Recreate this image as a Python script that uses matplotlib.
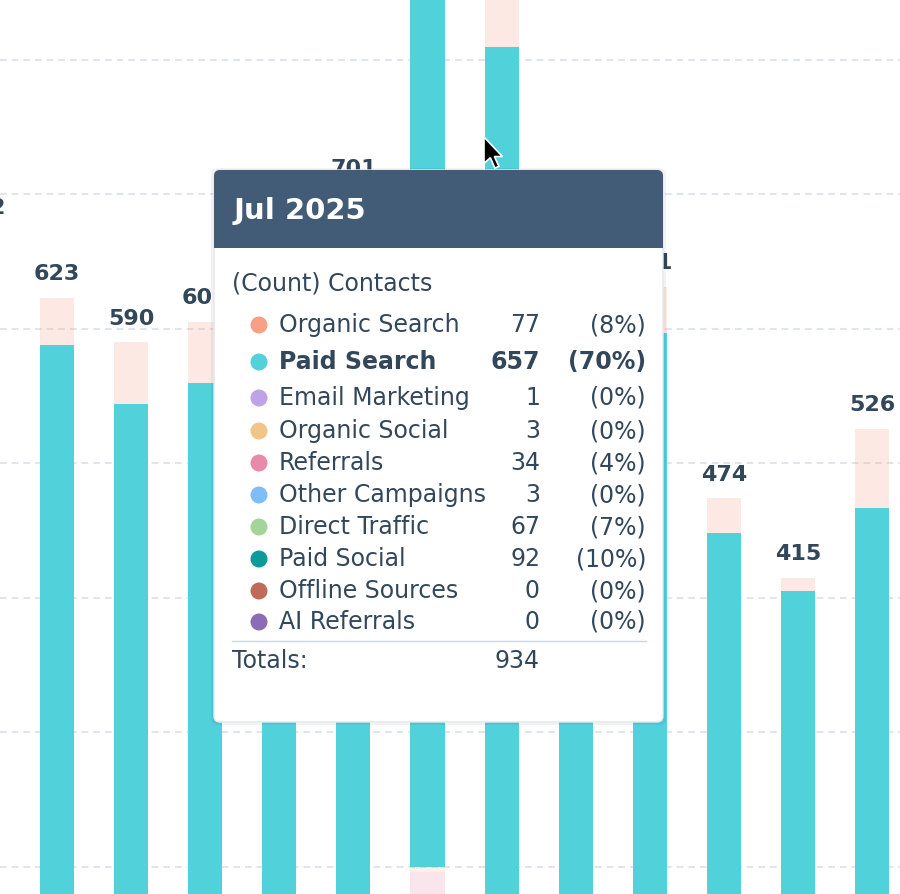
import numpy as np
import matplotlib.pyplot as plt
from matplotlib.patches import FancyBboxPatch, Rectangle, Circle, Polygon

plt.rcParams['font.family'] = ['DejaVu Sans']

# months shown (Jan 2025 .. Jan 2026), crop shows only part of the chart
months = ["Jan 2025", "Feb 2025", "Mar 2025", "Apr 2025", "May 2025", "Jun 2025",
          "Jul 2025", "Aug 2025", "Sep 2025", "Oct 2025", "Nov 2025", "Dec 2025", "Jan 2026"]

channels = ["Organic Search", "Paid Search", "Email Marketing", "Organic Social", "Referrals",
            "Other Campaigns", "Direct Traffic", "Paid Social", "Offline Sources", "AI Referrals"]
colors = ["#f89f86", "#51d1d9", "#bfa3e7", "#f1c488", "#e98aab",
          "#80bdf7", "#a5d49a", "#0d9a9b", "#c06b5a", "#8b6cb6"]

# bar segments (only Organic Search / Paid Search are visible for most months)
organic_search = [56, 35, 46, 45, 50, 52, 77, 62, 45, 34, 26, 10, 59]
paid_search = [616, 588, 544, 560, 598, 649, 657, 810, 642, 597, 448, 405, 467]
email_marketing = [0, 0, 0, 0, 0, 0, 1, 0, 0, 0, 0, 0, 0]
organic_social = [0, 0, 0, 0, 0, 0, 3, 0, 0, 0, 0, 0, 0]
referrals = [0, 0, 0, 0, 0, 0, 34, 0, 0, 0, 0, 0, 0]
other_campaigns = [0, 0, 0, 0, 0, 0, 3, 0, 0, 0, 0, 0, 0]
direct_traffic = [0, 0, 0, 0, 0, 0, 67, 0, 0, 0, 0, 0, 0]
paid_social = [0, 0, 0, 0, 0, 0, 92, 0, 0, 0, 0, 0, 0]
offline_sources = [0] * 13
ai_referrals = [0] * 13

series = [organic_search, paid_search, email_marketing, organic_social, referrals,
          other_campaigns, direct_traffic, paid_social, offline_sources, ai_referrals]
counts = np.array(series)
totals = counts.sum(axis=0)

hover = 6          # Jul 2025
active = 1         # Paid Search highlighted
text_col = "#33475b"
ymin, ymax = 179.9, 844.6

fig = plt.figure(figsize=(9, 8.94), dpi=100)
ax = fig.add_axes([0, 0, 1, 1])
x = np.arange(len(months))

# stack: last channel at the bottom, first on top
bottom = np.zeros(len(months))
for k in range(len(channels) - 1, -1, -1):
    a = 1.0 if k == active else 0.22
    ax.bar(x, counts[k], 0.46, bottom=bottom, color=colors[k], alpha=a, zorder=2, linewidth=0)
    bottom += counts[k]

# total labels (the ones above the crop are not visible anyway)
for i in x:
    if totals[i] > ymax:
        continue
    ax.annotate(str(totals[i]), (i, totals[i]), xytext=(0, 10), textcoords="offset points",
                ha="center", va="bottom", fontsize=16, fontweight="bold", color=text_col,
                annotation_clip=False, zorder=3)

ax.set_yticks(np.arange(200, 900, 100))
ax.yaxis.grid(True, color="#dadfea", linestyle=(0, (4, 3)), linewidth=1.2, zorder=0)
ax.set_axisbelow(True)
ax.set_xlim(0.231, 12.376)
ax.set_ylim(ymin, ymax)
ax.tick_params(left=False, bottom=False, labelleft=False, labelbottom=False)
for s in ax.spines.values():
    s.set_visible(False)

# tooltip overlay in pixel coordinates
ov = fig.add_axes([0, 0, 1, 1], zorder=5)
ov.set_xlim(0, 900)
ov.set_ylim(894, 0)
ov.axis("off")
ov.patch.set_alpha(0)

ov.add_patch(FancyBboxPatch((211, 168), 455, 557, boxstyle="round,pad=0,rounding_size=7",
                            fc="#000000", ec="none", alpha=0.05))
ov.add_patch(FancyBboxPatch((214, 170), 449, 552, boxstyle="round,pad=0,rounding_size=6",
                            fc="white", ec="#e3e8ef", lw=1))
ov.add_patch(FancyBboxPatch((214, 170), 449, 78, boxstyle="round,pad=0,rounding_size=6",
                            fc="#425b76", ec="none"))
ov.add_patch(Rectangle((214, 225), 449, 23, fc="#425b76", ec="none"))
ov.text(234, 211, months[hover], color="white", fontsize=21, fontweight="bold", va="center")
ov.text(232, 284, "(Count) Contacts", color=text_col, fontsize=17, va="center")

row_y = [325, 362, 398, 431, 463, 495, 527, 559, 591, 622]
tot = totals[hover]
for k, name in enumerate(channels):
    y = row_y[k]
    w = "bold" if k == active else "normal"
    v = counts[k][hover]
    ov.add_patch(Circle((259, y), 8.5, fc=colors[k], ec="none"))
    ov.text(279, y, name, color=text_col, fontsize=17, fontweight=w, va="center")
    ov.text(540, y, str(v), color=text_col, fontsize=17, fontweight=w, va="center", ha="right")
    ov.text(646, y, "(%d%%)" % round(100 * v / tot), color=text_col, fontsize=17,
            fontweight=w, va="center", ha="right")

ov.plot([232, 646], [641, 641], color="#cbd6e2", lw=1)
ov.text(232, 661, "Totals:", color=text_col, fontsize=17, va="center")
ov.text(540, 661, str(tot), color=text_col, fontsize=17, va="center", ha="right")

# mouse pointer
pts = np.array([(0, 0), (0, 23), (5.5, 18), (9.5, 27), (13, 25.5), (9, 17), (16, 17)]) * 1.15
ov.add_patch(Polygon(pts + [484, 137], closed=True, fc="black", ec="white", lw=1.2))

fig.savefig("out.png", dpi=100)
